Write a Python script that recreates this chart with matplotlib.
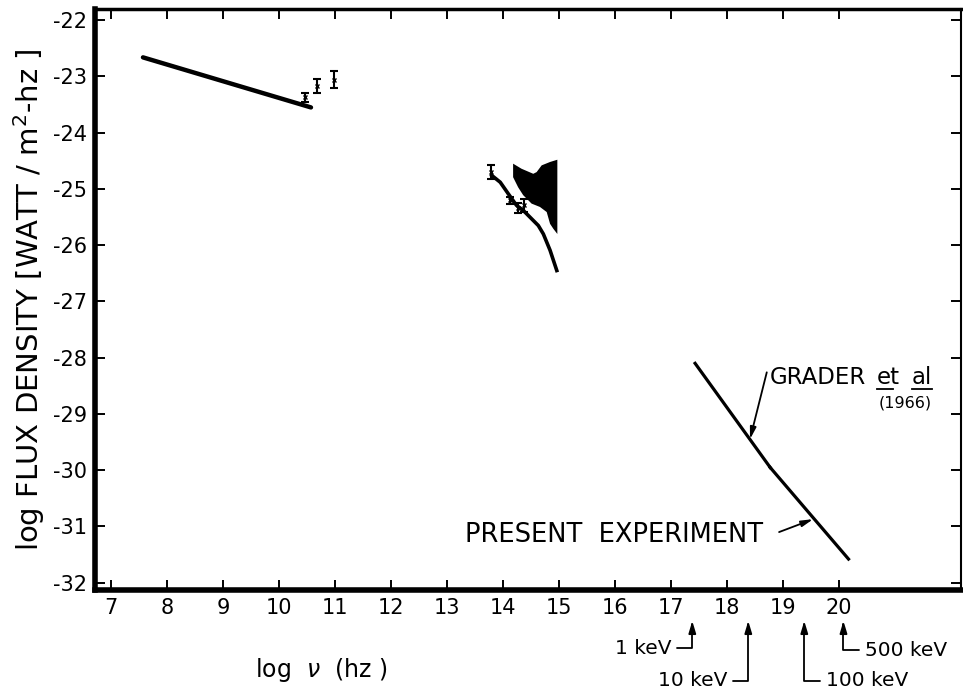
import matplotlib
matplotlib.use("Agg")
import matplotlib.pyplot as plt
import numpy as np

plt.rcParams['font.family'] = ['DejaVu Sans']
plt.rcParams['axes.unicode_minus'] = False

# radio power law line
radio_x = [7.57, 10.57]
radio_y = [-22.66, -23.55]

# radio points with error bars
radio_pts_x = [10.46, 10.67, 10.98]
radio_pts_y = [-23.37, -23.17, -23.06]
radio_pts_err = [0.08, 0.12, 0.15]

# optical / infrared curve
opt_x = [13.80, 13.95, 14.09, 14.24, 14.36, 14.48, 14.63, 14.72, 14.84, 14.96]
opt_y = [-24.76, -24.88, -25.08, -25.29, -25.38, -25.50, -25.65, -25.80, -26.09, -26.45]

opt_pts_x = [13.79, 14.12, 14.27, 14.37]
opt_pts_y = [-24.70, -25.20, -25.34, -25.29]
opt_pts_err = [0.12, 0.06, 0.09, 0.12]

# shaded region (black)
band_x = [14.18, 14.33, 14.54, 14.60, 14.69, 14.84, 14.97,
          14.97, 14.90, 14.84, 14.78, 14.66, 14.51, 14.36, 14.27, 14.18]
band_y = [-24.55, -24.64, -24.73, -24.70, -24.58, -24.52, -24.48,
          -25.80, -25.71, -25.62, -25.41, -25.32, -25.26, -25.11, -24.97, -24.79]

# x-ray spectra
grader_x = [17.43, 18.77]
grader_y = [-28.10, -29.95]
present_x = [18.77, 20.17]
present_y = [-29.95, -31.58]

# energy markers below axis
kev_labels = ['1 keV', '10 keV', '100 keV', '500 keV']
kev_pos = [17.38, 18.38, 19.38, 20.08]
kev_text_y = [-33.17, -33.74, -33.74, -33.20]
kev_side = [-1, -1, 1, 1]

xticks = list(range(7, 21))
yticks = list(range(-32, -21))

fig = plt.figure(figsize=(9.63, 6.92), dpi=100)
ax = fig.add_axes([0.0987, 0.1474, 0.8993, 0.8396])
ax.set_xlim(6.714, 22.18)
ax.set_ylim(-32.13, -21.80)

ax.plot(radio_x, radio_y, color='black', lw=3.2, solid_capstyle='round')
ax.errorbar(radio_pts_x, radio_pts_y, yerr=radio_pts_err, fmt='x', ms=3,
            color='black', ecolor='black', elinewidth=1.5, capsize=3, capthick=1.5)

ax.fill(band_x, band_y, color='black', lw=0)
ax.plot(opt_x, opt_y, color='black', lw=2.6)
ax.errorbar(opt_pts_x, opt_pts_y, yerr=opt_pts_err, fmt='x', ms=3,
            color='black', ecolor='black', elinewidth=1.5, capsize=3, capthick=1.5)

ax.plot(grader_x, grader_y, color='black', lw=2.3)
ax.plot(present_x, present_y, color='black', lw=2.3)

head = dict(arrowstyle='-|>,head_length=0.7,head_width=0.18', color='black', lw=1.3,
            shrinkA=0, shrinkB=0)
ax.annotate('', xy=(18.41, -29.45), xytext=(18.71, -28.26), arrowprops=head)
ax.text(18.77, -28.46, 'GRADER', fontsize=16.5, va='baseline', ha='left')
ax.text(20.67, -28.46, 'et', fontsize=16.5, va='baseline', ha='left')
ax.text(21.30, -28.46, 'al', fontsize=16.5, va='baseline', ha='left')
ax.plot([20.67, 20.97], [-28.56, -28.56], color='black', lw=1.3)
ax.plot([21.30, 21.66], [-28.56, -28.56], color='black', lw=1.3)
ax.text(21.66, -28.80, '(1966)', fontsize=11.5, va='center', ha='right')

ax.annotate('', xy=(19.54, -30.87), xytext=(18.93, -31.10), arrowprops=head)
ax.text(13.32, -31.15, 'PRESENT  EXPERIMENT', fontsize=18.5, va='center', ha='left')

# energy markers
for lab, xp, yp, s in zip(kev_labels, kev_pos, kev_text_y, kev_side):
    xt = xp + s * 0.38
    ax.annotate(lab, xy=(xp, -32.68), xytext=(xt, yp),
                ha='right' if s < 0 else 'left', va='center', fontsize=14.5,
                annotation_clip=False,
                arrowprops=dict(arrowstyle='-|>,head_length=0.5,head_width=0.15',
                                color='black', lw=1.3, shrinkA=2, shrinkB=0,
                                connectionstyle='angle,angleA=0,angleB=90,rad=0'))

ax.set_xticks(xticks)
ax.set_yticks(yticks)
ax.tick_params(direction='in', length=7, width=1.4, labelsize=15,
               top=True, right=True, pad=6)
ax.spines['left'].set_linewidth(4)
ax.spines['bottom'].set_linewidth(4)
ax.spines['top'].set_linewidth(2.5)
ax.spines['right'].set_linewidth(1.5)

ax.set_ylabel('log FLUX DENSITY [WATT / m$^2$-hz ]', fontsize=21, labelpad=4)
ax.text(10.75, -33.55, r'log  $\nu$  (hz )', fontsize=17, ha='center', va='center',
        clip_on=False)

fig.savefig('out.png', dpi=100)
